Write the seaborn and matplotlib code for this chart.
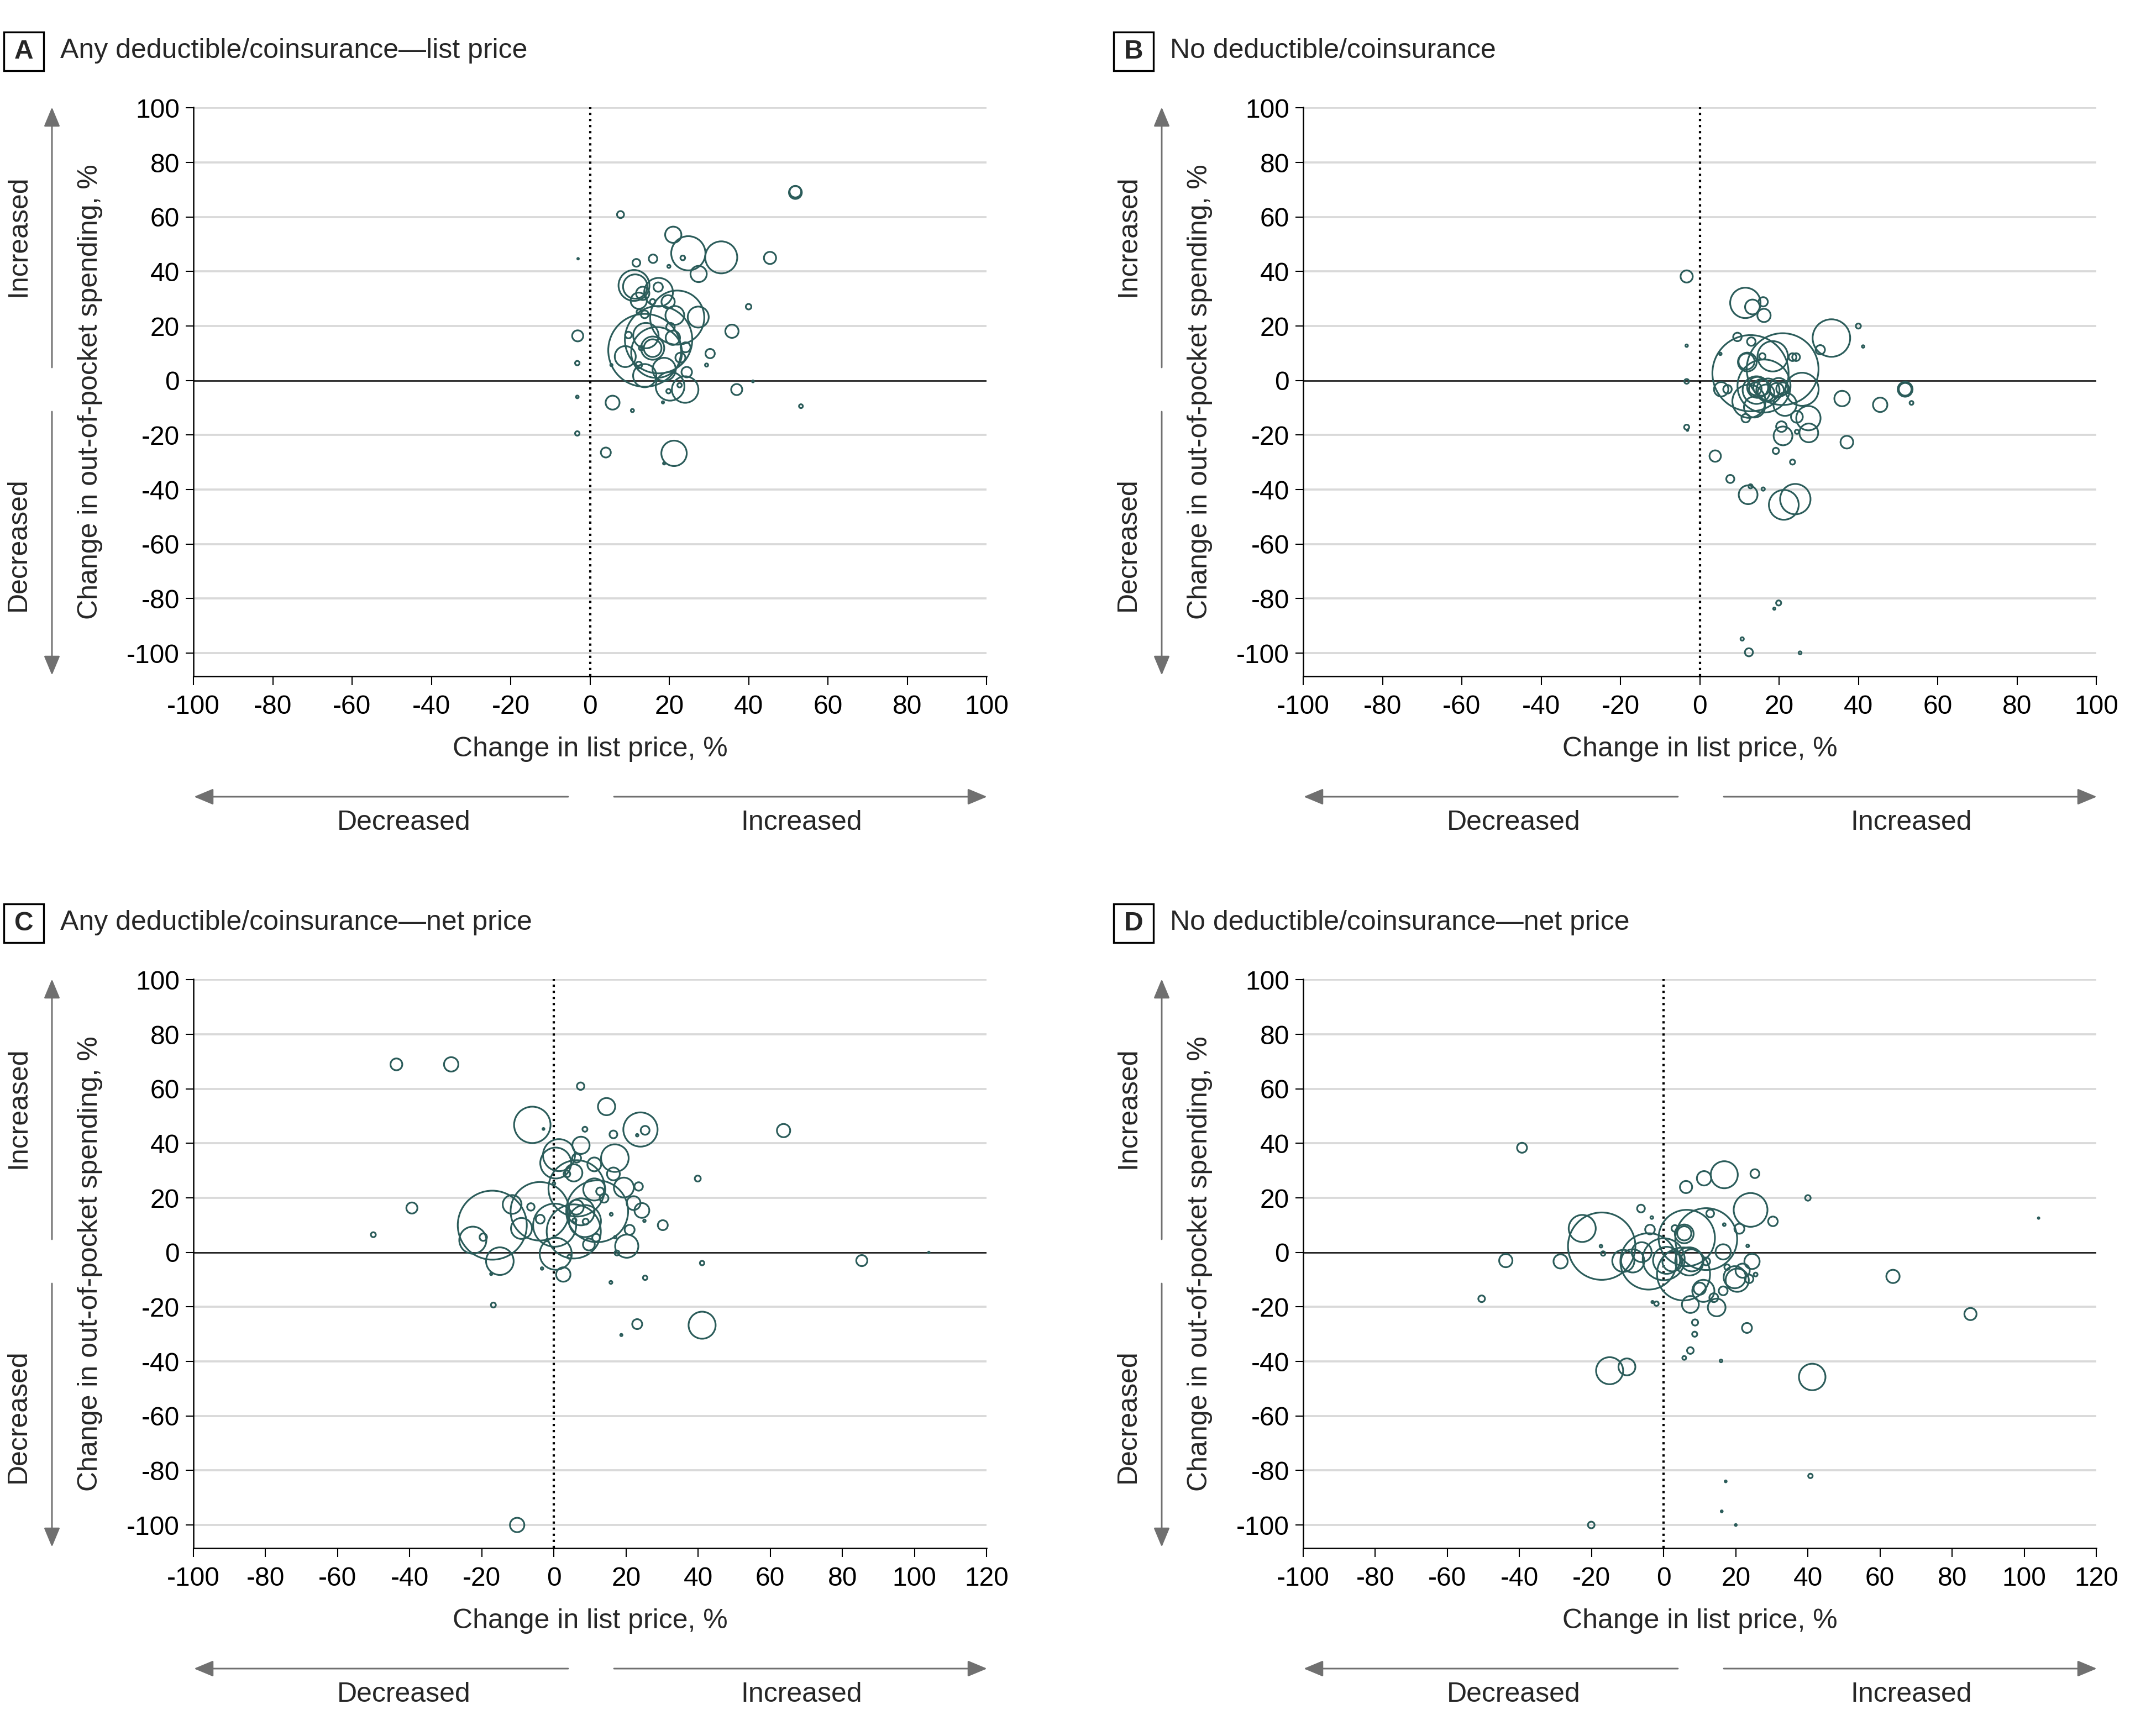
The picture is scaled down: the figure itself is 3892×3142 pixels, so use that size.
import numpy as np
import pandas as pd
import seaborn as sns
import matplotlib.pyplot as plt
from matplotlib.patches import FancyArrowPatch, Rectangle

# ---- data: x = change in list/net price (%),
# y = change in out-of-pocket spending (%), w = bubble weight ----

# A: any deductible/coinsurance, list price
a_x = [51.8, 51.8, 7.7, 21.0, 24.8, 33.1, 45.4, 15.9, 11.7, 23.4, 19.9, -3.0, 27.4, 11.1, 11.4,
       17.2, 17.3, 13.3, 12.3, 15.8, 19.7, 22.0, 21.4, 27.3, 40.0, 12.4, 13.8, 20.3, 35.8, -3.1,
       13.8, 17.3, 16.8, 14.1, 15.8, 15.8, 8.9, 13.8, 18.7, 20.2, 24.0, 24.1, 22.8, 20.9, 9.7,
       12.3, 24.4, 22.6, 19.8, 12.9, 30.3, 29.4, -3.2, 41.1, 37.0, -3.2, 5.7, 18.4, 10.7, 53.2,
       -3.2, 4.0, 21.2, 18.7, 5.4]
a_y = [69.0, 69.3, 60.9, 53.5, 46.7, 45.2, 45.0, 44.7, 43.2, 45.0, 41.9, 44.7, 39.1, 34.9, 34.5,
       34.3, 32.4, 32.0, 29.3, 28.9, 28.9, 23.1, 23.9, 23.3, 27.1, 25.2, 24.3, 19.6, 18.1, 16.4,
       11.1, 15.0, 10.3, 16.5, 11.9, 11.9, 8.8, 1.8, 4.1, -2.1, -3.3, 12.2, 8.4, 15.7, 16.7,
       5.7, 3.1, -1.7, -3.9, 11.9, 9.9, 5.7, 6.4, -0.3, -3.3, -6.0, -8.1, -8.0, -11.0, -9.4,
       -19.4, -26.4, -26.7, -30.4, 5.7]
a_w = [135, 110, 40, 216, 961, 841, 121, 59, 49, 18, 8, 2, 216, 784, 484,
       71, 676, 144, 216, 25, 144, 2401, 289, 361, 25, 21, 49, 59, 144, 100,
       4356, 3721, 2116, 529, 441, 256, 361, 441, 441, 676, 576, 81, 81, 169, 36,
       36, 90, 16, 16, 16, 71, 8, 16, 3, 100, 6, 159, 4, 8, 12,
       16, 81, 529, 4, 4]

# B: no deductible/coinsurance, list price
b_x = [-3.3, 11.5, 13.3, 16.0, 16.2, 40.0, 33.2, 30.4, 41.2, -3.3, 9.5, 13.0, 5.2, 12.8, 20.9,
       25.8, 16.2, 18.4, 12.0, 11.8, 15.8, 23.4, 24.3, 5.4, 7.0, 12.4, 13.8, 14.3, 14.6, 15.6,
       17.2, 19.9, 19.4, 20.9, 14.0, 16.7, 21.5, 11.6, 24.5, 27.4, 20.6, 21.0, 24.5, 27.5, 35.9,
       45.5, 51.8, 51.8, 53.4, 37.1, -3.3, -3.3, -3.1, 3.9, 19.2, 23.4, 7.7, 12.2, 12.8, 16.0,
       21.2, 24.1, 19.9, 18.8, 10.7, 12.4, 25.3]
b_y = [38.2, 28.5, 27.0, 28.9, 23.9, 20.0, 15.6, 11.3, 12.5, 12.8, 16.0, 14.3, 9.8, 2.7, 4.2,
       -3.2, -2.0, 8.9, 6.8, 7.0, 8.9, 8.6, 8.6, -3.2, -3.2, -7.6, -9.7, -3.5, -2.5, -2.5,
       -3.5, -2.5, -3.5, -3.0, -3.0, -4.5, -8.7, -13.8, -13.3, -13.8, -16.9, -20.3, -18.8, -19.2, -6.6,
       -8.9, -3.2, -3.2, -8.2, -22.6, -0.3, -17.1, -18.2, -27.7, -25.8, -29.9, -36.1, -41.9, -38.8, -39.8,
       -45.6, -43.5, -81.6, -83.7, -94.8, -99.7, -99.9]
b_w = [121, 756, 180, 71, 144, 21, 1156, 71, 5, 5, 59, 59, 5, 4761, 4225,
       900, 2304, 756, 289, 210, 32, 49, 49, 169, 59, 900, 361, 625, 361, 225,
       441, 289, 169, 132, 132, 225, 441, 59, 114, 484, 92, 289, 14, 289, 196,
       169, 180, 132, 12, 132, 18, 21, 2, 106, 32, 21, 53, 289, 14, 9,
       729, 756, 21, 4, 9, 53, 7]

# C: any deductible/coinsurance, net price
c_x = [-43.7, -28.5, 7.4, 14.6, -6.0, -2.9, 24.0, 25.3, 23.1, 8.6, 16.5, 7.5, 1.4, 0.5, 6.3,
       16.9, 11.2, 16.5, 5.5, 3.6, 39.9, 6.3, 11.2, 19.4, 23.5, 12.8, 13.9, 0.0, -3.9, -17.1,
       -11.6, -6.4, -22.5, -19.6, -9.0, 12.0, 6.2, 7.5, 8.6, 5.5, 0.2, -3.8, 8.8, 5.7, 15.9,
       22.1, 24.4, 25.1, 30.2, 21.0, 20.2, 17.0, 11.7, 9.7, 0.5, 17.5, -1.9, 4.3, -15.0, 2.6,
       -3.3, -17.4, 41.1, 25.3, 15.8, -16.8, 23.1, 41.1, 18.7, -50.1, -39.4, 63.7, 85.4, 104.0, -10.2]
c_y = [69.0, 69.0, 61.0, 53.5, 46.8, 45.3, 45.1, 44.8, 43.0, 45.2, 43.3, 39.3, 35.7, 32.8, 34.6,
       34.6, 32.3, 28.8, 29.2, 28.8, 27.1, 23.5, 23.1, 23.8, 24.2, 22.4, 19.9, 25.3, 15.1, 10.0,
       17.6, 16.7, 4.5, 5.6, 8.8, 15.1, 16.6, 14.9, 11.5, 7.7, 10.0, 12.2, 11.3, 11.8, 14.0,
       18.1, 15.4, 11.6, 10.0, 8.3, 2.3, 5.6, 5.4, 2.9, -0.5, -0.2, 4.5, -1.6, -3.2, -8.1,
       -5.9, -7.9, -3.9, -9.3, -11.0, -19.3, -26.3, -26.7, -30.3, 6.5, 16.3, 44.7, -3.0, 0.0, -100.0]
c_w = [114, 169, 45, 243, 1089, 3, 961, 64, 5, 20, 49, 243, 841, 784, 64,
       625, 156, 135, 243, 36, 29, 2601, 400, 324, 58, 49, 64, 6, 2809, 3906,
       289, 45, 600, 45, 361, 3136, 180, 600, 841, 2401, 1521, 64, 29, 13, 7,
       156, 180, 5, 81, 81, 441, 5, 49, 114, 841, 20, 5, 13, 625, 169,
       5, 4, 16, 16, 7, 20, 81, 600, 4, 20, 100, 144, 100, 2, 169]

# D: no deductible/coinsurance, net price
d_x = [-39.3, 16.8, 11.2, 6.2, 25.3, 40.0, 24.1, 30.3, -6.3, -3.3, 12.9, 16.8, -22.6, -17.2, 21.0,
       -3.8, 5.7, 5.7, 3.1, 11.8, 6.4, -4.2, -8.6, -11.2, -6.1, 0.0, 0.8, 2.4, 5.5, 7.1,
       7.8, 16.5, 11.8, 24.5, 23.3, 17.6, 21.9, 19.7, 20.4, 23.7, 25.5, -28.6, -16.8, -17.4, 11.0,
       10.0, 16.5, 13.9, 7.4, 14.7, -2.0, -3.1, 8.7, 23.1, 8.6, 7.4, 5.7, 15.9, -15.0, -10.2,
       41.2, 63.6, -43.8, -50.5, 85.1, 104.0, -20.1, 16.1, 17.2, 20.0, 40.7]
d_y = [38.4, 28.5, 27.2, 24.0, 28.9, 20.0, 15.6, 11.4, 16.1, 12.8, 14.3, 10.2, 8.8, 2.3, 8.7,
       8.4, 6.8, 7.0, 8.8, 4.9, 5.3, -3.3, -3.1, -3.1, 0.1, -2.5, -2.9, -3.3, -7.9, -3.3,
       -2.9, 0.2, -3.3, -3.3, 2.4, -5.4, -6.7, -9.1, -10.2, -9.7, -8.1, -3.3, -0.4, 2.3, -14.1,
       -13.3, -14.1, -16.6, -19.1, -20.2, -18.8, -18.2, -25.7, -27.7, -30.0, -36.0, -38.7, -39.8, -43.4, -42.0,
       -45.7, -8.8, -3.0, -17.0, -22.6, 12.6, -100.0, -95.0, -84.0, -100.0, -82.0]
d_w = [81, 600, 169, 121, 64, 25, 936, 76, 49, 6, 49, 6, 600, 3721, 81,
       76, 289, 164, 36, 3136, 2601, 2601, 441, 400, 324, 1444, 600, 324, 2304, 650,
       400, 190, 49, 190, 6, 25, 164, 400, 441, 59, 12, 164, 16, 6, 400,
       121, 64, 64, 234, 256, 16, 4, 31, 81, 21, 36, 12, 6, 600, 234,
       576, 144, 144, 36, 121, 2, 36, 3, 3, 3, 16]

letters = ["A", "B", "C", "D"]
titles = ["Any deductible/coinsurance\u2014list price", "No deductible/coinsurance",
          "Any deductible/coinsurance\u2014net price", "No deductible/coinsurance\u2014net price"]
y_ticks = list(range(-100, 101, 20))
x_ticks_list = list(range(-100, 101, 20))
x_ticks_net = list(range(-100, 121, 20))

TEAL = "#2b5c5a"
GRID = "#d9d9d9"
ARROW = "#707070"
W, H, DPI = 3892, 3142, 300

sns.set_theme(style="ticks")
plt.rcParams["font.family"] = ["Liberation Sans", "DejaVu Sans"]
plt.rcParams["axes.unicode_minus"] = False

fig = plt.figure(figsize=(W / DPI, H / DPI), dpi=DPI)


def fx(px):
    return px / W


def fy(py):
    return 1 - py / H


def arrow(x0, y0, x1, y1):
    fig.add_artist(FancyArrowPatch((fx(x0), fy(y0)), (fx(x1), fy(y1)),
                                   transform=fig.transFigure, arrowstyle="-|>,head_length=0.6,head_width=0.25",
                                   mutation_scale=12, color=ARROW, lw=0.7, shrinkA=0, shrinkB=0))


panels = [
    (a_x, a_y, a_w, x_ticks_list, 350, 0),
    (b_x, b_y, b_w, x_ticks_list, 2358, 0),
    (c_x, c_y, c_w, x_ticks_net, 350, 1578),
    (d_x, d_y, d_w, x_ticks_net, 2358, 1578),
]

for i, (xs, ys, ws, xt, left, dy) in enumerate(panels):
    top, bottom, width = 194 + dy, 1224 + dy, 1435
    ax = fig.add_axes([fx(left), fy(bottom), width / W, (bottom - top) / H])
    df = pd.DataFrame({"x": xs, "y": ys, "w": ws})

    for t in y_ticks:
        if t != 0:
            ax.axhline(t, color=GRID, lw=0.9, zorder=0)
    ax.axhline(0, color="black", lw=0.6, zorder=1)
    ax.axvline(0, color="black", lw=1.0, ls=":", zorder=1)

    sns.scatterplot(data=df, x="x", y="y", size="w", sizes=(0, 1150), size_norm=(0, 5000),
                    color=TEAL, facecolor="none", edgecolor=TEAL, linewidth=0.75,
                    legend=False, ax=ax, zorder=3)
    ax.collections[-1].set_facecolor("none")

    ax.set_xlim(xt[0], xt[-1])
    ax.set_ylim(-108.5, 100.3)
    ax.set_xticks(xt)
    ax.set_yticks(y_ticks)
    sns.despine(ax=ax)
    for s in ["left", "bottom"]:
        ax.spines[s].set_color("black")
        ax.spines[s].set_linewidth(0.6)
    ax.tick_params(axis="x", length=3.8, width=0.5, pad=4, labelsize=11.5, colors="black")
    ax.tick_params(axis="y", length=3.4, width=0.5, pad=2.6, labelsize=11.5, colors="black")

    ax.set_xlabel("Change in list price, %", fontsize=12)
    ax.xaxis.label.set_va("center")
    ax.xaxis.set_label_coords(0.5, -(1356 - 1224) / 1030)
    ax.set_ylabel("Change in out-of-pocket spending, %", fontsize=12)
    ax.yaxis.label.set_va("center")
    ax.yaxis.set_label_coords((163 - 350) / 1435, 0.5)

    # panel letter and title
    fig.add_artist(Rectangle((fx(left - 343), fy(128 + dy)), 72 / W, 70 / H,
                             transform=fig.transFigure, fill=False, ec="black", lw=0.8))
    fig.text(fx(left - 307), fy(93 + dy), letters[i], ha="center", va="center",
             fontsize=11.5, fontweight="bold")
    fig.text(fx(left - 241), fy(92 + dy), titles[i], ha="left", va="center", fontsize=12)

    # direction arrows, y side
    arrow(left - 256, 665 + dy, left - 256, 194 + dy)
    arrow(left - 256, 745 + dy, left - 256, 1222 + dy)
    fig.text(fx(left - 317), fy(427 + dy), "Increased", rotation=90, ha="center", va="center", fontsize=12)
    fig.text(fx(left - 317), fy(985 + dy), "Decreased", rotation=90, ha="center", va="center", fontsize=12)

    # direction arrows, x side
    arrow(left + 678, 1442 + dy, left + 1, 1442 + dy)
    arrow(left + 761, 1442 + dy, left + 1436, 1442 + dy)
    fig.text(fx(left + 381), fy(1489 + dy), "Decreased", ha="center", va="center", fontsize=12)
    fig.text(fx(left + 1100), fy(1489 + dy), "Increased", ha="center", va="center", fontsize=12)

fig.savefig("out.png", dpi=DPI)
